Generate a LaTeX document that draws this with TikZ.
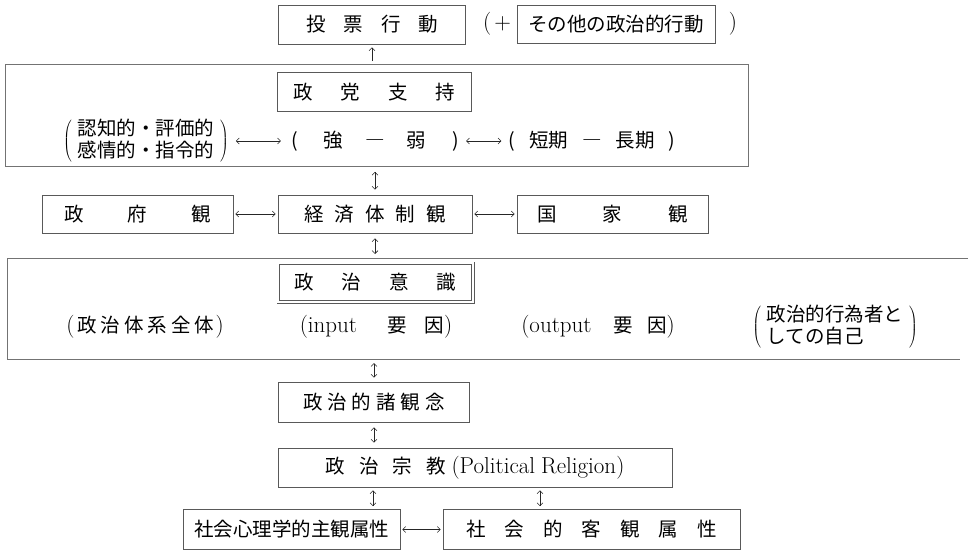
\documentclass[tikz,border=0pt]{standalone}
\usepackage{fontspec}
\newfontfamily\jp{Noto Sans CJK JP}
\usetikzlibrary{arrows.meta}
\newcommand\gp[1]{\hspace{#1pt}}
\newcommand\jf{\jp\fontsize{19.5}{20}\selectfont}
\newcommand\lmf{\rmfamily\fontsize{23}{24}\selectfont}
\newcommand\mylp{{\lmf(}}
\newcommand\myrp{{\lmf)}}
\renewcommand\arraystretch{0.95}
\begin{document}
\begin{tikzpicture}[x=1pt,y=-1pt,
  box/.style={draw=black!65, line width=0.6pt, inner sep=0pt, font=\jf},
  dbox/.style={box, double=white, double distance=2.2pt},
  frame/.style={draw=black!55, line width=0.6pt},
  txt/.style={inner sep=2pt, font=\jf},
  harr/.style={{Straight Barb[length=3pt,width=6pt]}-{Straight Barb[length=3pt,width=6pt]}, line width=0.55pt, black!85},
  uarr/.style={-{Straight Barb[length=3pt,width=6pt]}, line width=0.55pt, black!85}
]
\useasboundingbox (0,0) rectangle (971,549);

% ---- top row
\node[box, minimum width=187pt, minimum height=39pt] (tohyo) at (372,24.5) {投\gp{18}票\gp{18}行\gp{18}動};
\node[txt, font=\lmf] (plus) at (497,24) {(\gp{3}+};
\node[box, minimum width=198pt, minimum height=38pt] (sonota) at (616,24) {その他の政治的行動};
\node[txt, font=\lmf] (rpar) at (733,24) {)};

% ---- big frame 1
\node[frame, minimum width=743pt, minimum height=102pt, inner sep=0pt] (big1) at (376.5,115.5) {};
\node[dbox, minimum width=191.6pt, minimum height=36.6pt] (seito) at (374.5,92) {政\gp{28}党\gp{28}支\gp{28}持};
\node[txt] (kind) at (146,141) {$\left(\;\begin{tabular}{@{}l@{}}認知的・評価的\\感情的・指令的\end{tabular}\;\right)$};
\node[txt] (kyo) at (375,141) {(\gp{26}強\gp{22}―\gp{22}弱\gp{26})};
\node[txt] (tanki) at (592,141) {(\gp{14}短期\gp{14}―\gp{14}長期\gp{14})};
\draw[harr, shorten <=5pt, shorten >=8pt] (kind.east) -- (kyo.west);
\draw[harr, shorten <=5pt, shorten >=5pt] (kyo.east) -- (tanki.west);
\draw[uarr, shorten <=3pt, shorten >=3pt] (big1.north -| tohyo) -- (tohyo.south);

% ---- second row
\node[box, minimum width=191pt, minimum height=38pt] (seifu) at (137.5,214) {政\gp{44}府\gp{44}観};
\node[box, minimum width=194pt, minimum height=38pt] (keizai) at (375,214) {経\gp{11}済\gp{11}体\gp{11}制\gp{11}観};
\node[box, minimum width=191pt, minimum height=38pt] (kokka) at (612.5,214) {国\gp{46}家\gp{46}観};
\draw[harr, shorten <=2pt, shorten >=2pt] (seifu.east) -- (keizai.west);
\draw[harr, shorten <=2pt, shorten >=2pt] (keizai.east) -- (kokka.west);
\draw[harr, shorten <=5pt, shorten >=5pt] (big1.south -| keizai) -- (keizai.north);

% ---- big frame 2 (open on the right)
\coordinate (b2tl) at (7,258);
\coordinate (b2tr) at (968,258);
\coordinate (b2bl) at (7,359);
\coordinate (b2br) at (960,359);
\draw[frame] (b2tr) -- (b2tl) -- (b2bl) -- (b2br);
\node[dbox, minimum width=194.6pt, minimum height=38.6pt] (ishiki) at (375.5,282.5) {政\gp{28}治\gp{28}意\gp{28}識};
\node[txt] (taikei) at (145,327) {\mylp\gp{3}政\gp{4}治\gp{4}体\gp{4}系\gp{4}全\gp{4}体\gp{1}\myrp};
\node[txt] (input) at (376,327) {{\lmf (input}\gp{30}要\gp{18}因\myrp};
\node[txt] (output) at (598,327) {{\lmf (output}\gp{22}要\gp{14}因\myrp};
\node[txt] (kouisha) at (835,327) {$\left(\;\begin{tabular}{@{}l@{}}政治的行為者と\\しての自己\end{tabular}\;\right)$};
\draw[harr, shorten <=5pt, shorten >=4pt] (keizai.south) -- (keizai.south |- b2tl);

% ---- lower chain
\node[box, minimum width=191pt, minimum height=40pt] (shokan) at (374,402) {政\gp{5}治\gp{5}的\gp{5}諸\gp{5}観\gp{5}念};
\node[box, minimum width=394pt, minimum height=39pt] (shukyo) at (475,467.5) {政\gp{14}治\gp{14}宗\gp{14}教\gp{6}{\lmf (Political\gp{6}Religion)}};
\draw[harr, shorten <=4pt, shorten >=4pt] (shokan.north |- b2bl) -- (shokan.north);
\draw[harr, shorten <=5pt, shorten >=5pt] (shokan.south) -- (shokan.south |- shukyo.north);

% ---- bottom row
\node[box, minimum width=217pt, minimum height=40pt] (shakai1) at (291.5,529.5) {社会心理学的主観属性};
\node[box, minimum width=297pt, minimum height=40pt] (shakai2) at (591.5,529.5) {社\gp{19}会\gp{19}的\gp{19}客\gp{19}観\gp{19}属\gp{19}性};
\coordinate (c1) at (373,0);
\coordinate (c2) at (540,0);
\draw[harr, shorten <=3pt, shorten >=3pt] (shukyo.south -| c1) -- (shakai1.north -| c1);
\draw[harr, shorten <=3pt, shorten >=3pt] (shukyo.south -| c2) -- (shakai2.north -| c2);
\draw[harr, shorten <=2pt, shorten >=2pt] (shakai1.east) -- (shakai2.west);
\end{tikzpicture}
\end{document}
